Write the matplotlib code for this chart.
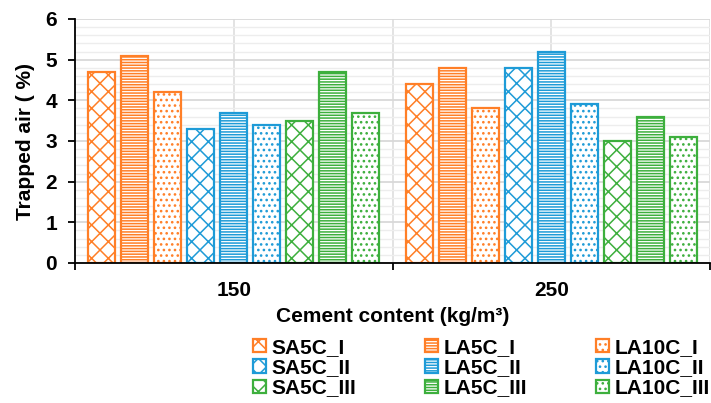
import matplotlib
matplotlib.use("Agg")
import matplotlib.pyplot as plt
from matplotlib.patches import Patch
import numpy as np

plt.rcParams['font.family'] = ['Liberation Sans', 'DejaVu Sans']
plt.rcParams['font.weight'] = 'bold'
plt.rcParams['hatch.linewidth'] = 1.1

categories = ['150', '250']
series = ['SA5C_I', 'LA5C_I', 'LA10C_I',
          'SA5C_II', 'LA5C_II', 'LA10C_II',
          'SA5C_III', 'LA5C_III', 'LA10C_III']
values = [
    [4.7, 4.4],
    [5.1, 4.8],
    [4.2, 3.8],
    [3.3, 4.8],
    [3.7, 5.2],
    [3.4, 3.9],
    [3.5, 3.0],
    [4.7, 3.6],
    [3.7, 3.1],
]
orange = '#FF7F27'
blue = '#1E9BD7'
green = '#3DAF3D'
colors = [orange, orange, orange, blue, blue, blue, green, green, green]
hatches = ['xx', '------', '...', 'xx', '------', '...', 'xx', '------', '...']

fig = plt.figure(figsize=(7.11, 4.03), dpi=100)
ax = fig.add_axes([75/711, 1-263/403, (710-75)/711, (263-19)/403])

x = np.arange(len(categories))
pitch = 0.104
width = 0.085
handles = []
for i, (name, vals) in enumerate(zip(series, values)):
    off = (i - 4) * pitch
    ax.bar(x + off, vals, width, facecolor='white', edgecolor=colors[i],
           hatch=hatches[i], linewidth=1.6, zorder=3)
    handles.append(Patch(facecolor='white', edgecolor=colors[i],
                         hatch=hatches[i], linewidth=1.6, label=name))

ax.set_xlim(-0.5, 1.5)
ax.set_ylim(0, 6)
ax.set_yticks(np.arange(0, 7, 1))
ax.set_yticks(np.arange(0, 6.01, 0.2), minor=True)
ax.yaxis.grid(True, which='major', color='#d9d9d9', linewidth=1.3, zorder=0)
ax.yaxis.grid(True, which='minor', color='#ededed', linewidth=1.0, zorder=0)
ax.tick_params(axis='y', which='minor', length=0)
ax.tick_params(axis='y', which='major', length=5, width=1.3, pad=8,
               labelsize=15, direction='out')
for xv in [0, 0.5, 1, 1.5]:
    ax.axvline(xv, color='#e0e0e0', linewidth=1.3, zorder=1)

ax.set_xticks([-0.5, 0.5, 1.5])
ax.set_xticklabels([])
ax.set_xticks(x, minor=True)
ax.set_xticklabels(categories, minor=True)
ax.tick_params(axis='x', which='major', length=5, width=1.3, direction='out')
ax.tick_params(axis='x', which='minor', length=0, pad=13, labelsize=15)

for s in ['top', 'right']:
    ax.spines[s].set_visible(False)
for s in ['left', 'bottom']:
    ax.spines[s].set_linewidth(1.3)
    ax.spines[s].set_color('black')
    ax.spines[s].set_zorder(4)

ax.set_xlabel('Cement content (kg/m³)', fontsize=15, fontweight='bold', labelpad=5)
ax.set_ylabel('Trapped air ( %)', fontsize=15, fontweight='bold', labelpad=7)

order = [0, 3, 6, 1, 4, 7, 2, 5, 8]
leg = fig.legend([handles[k] for k in order], [series[k] for k in order],
                 ncol=3, loc='upper left',
                 bbox_to_anchor=(253/711, 1-338/403),
                 bbox_transform=fig.transFigure, frameon=False,
                 fontsize=15, handlelength=0.6, handleheight=0.6,
                 handletextpad=0.3, columnspacing=3.3, labelspacing=0.06,
                 borderpad=0, borderaxespad=0)
for t in leg.get_texts():
    t.set_fontweight('bold')

fig.savefig('out.png', dpi=100)
